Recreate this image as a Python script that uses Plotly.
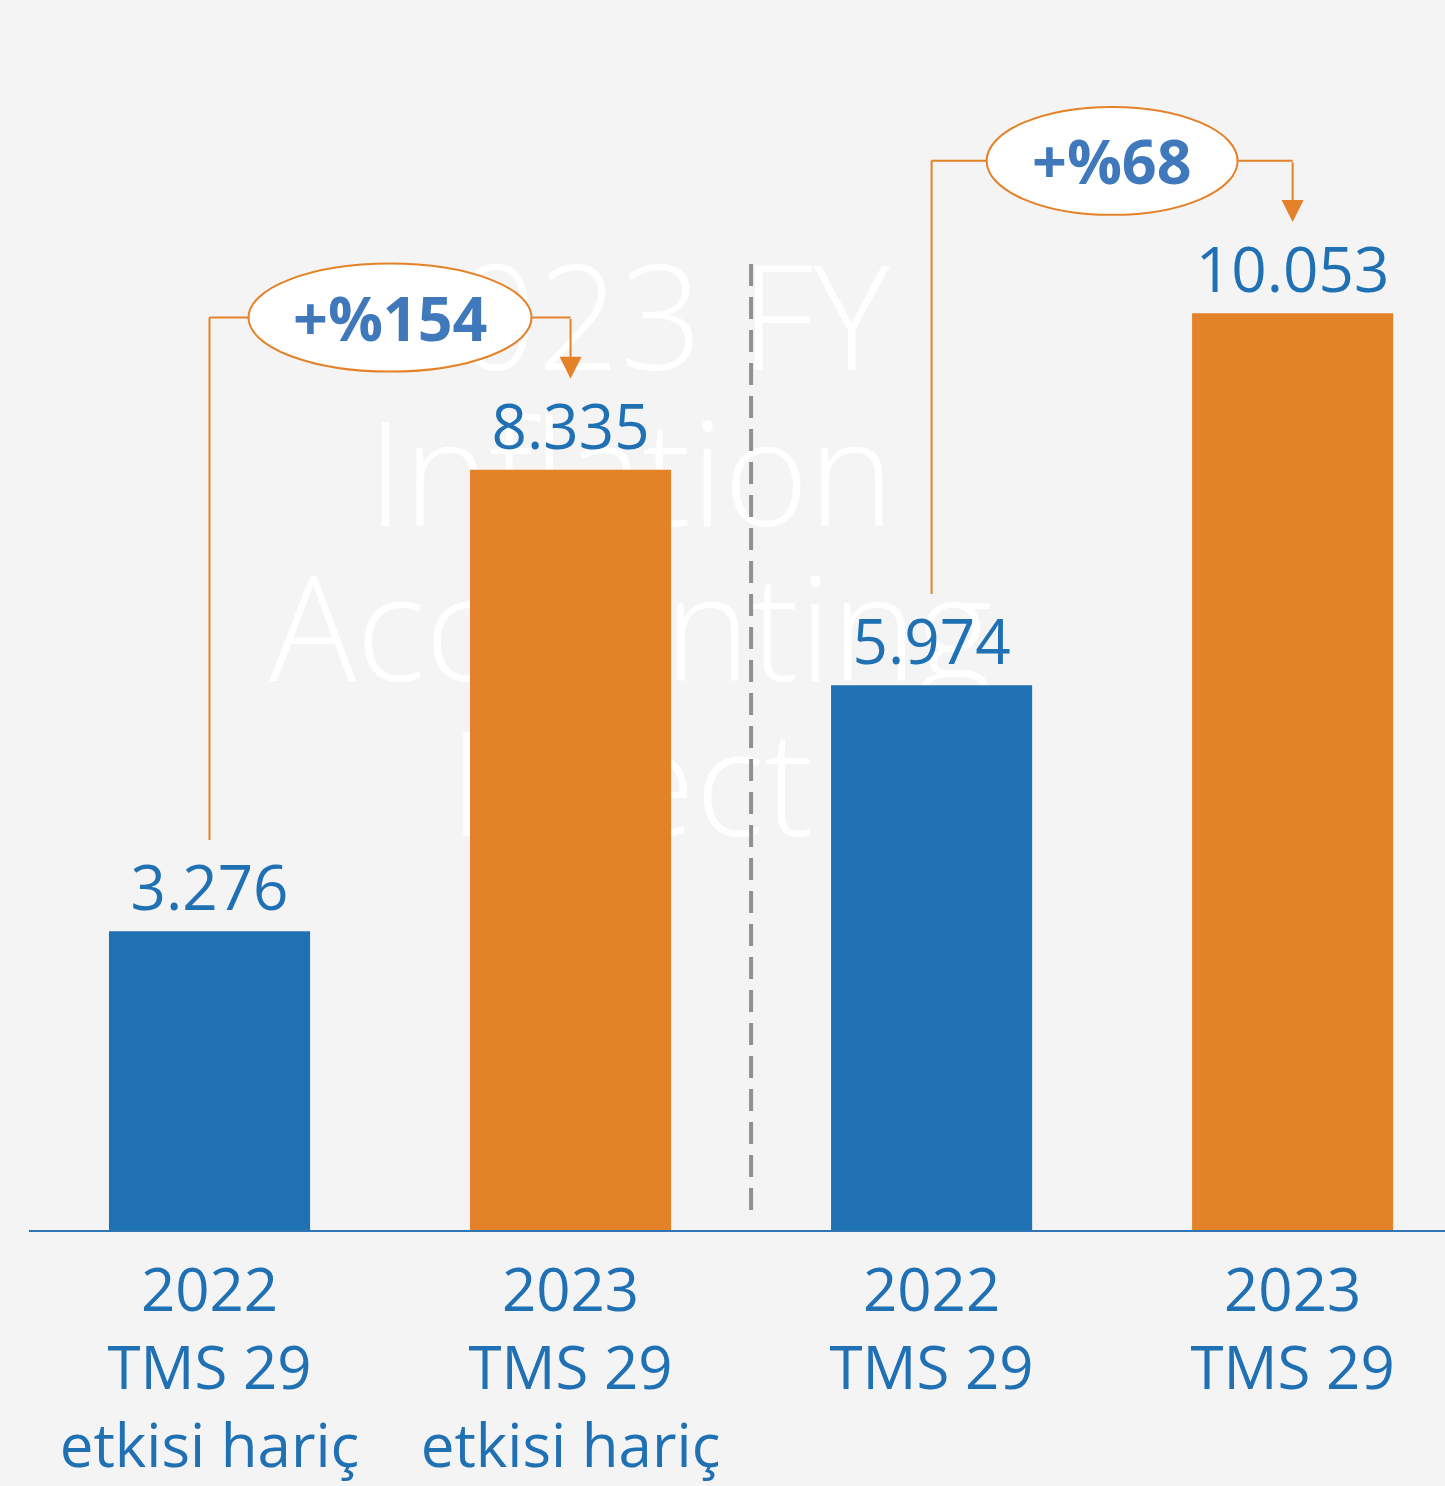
import plotly.graph_objects as go

categories = ["2022<br>TMS 29<br>etkisi hariç", "2023<br>TMS 29<br>etkisi hariç",
              "2022<br>TMS 29", "2023<br>TMS 29"]
values = [3276, 8335, 5974, 10053]
bar_colors = ["#2070b4", "#e38229", "#2070b4", "#e38229"]
growth_labels = ["+%154", "+%68"]
growth_pairs = [(0, 1), (2, 3)]
watermark_lines = ["2023 FY", "Inflation", "Accounting", "Effect"]
watermark_line_pos = [0.729, 0.602, 0.476, 0.350]

BG = "#f4f4f4"
ORANGE = "#e38229"
BLUE = "#2070b4"

fig = go.Figure()

# watermark on the main (lower) subplot so that bars are drawn on top of it
fig.add_trace(go.Scatter(
    x=[0.425] * len(watermark_lines), y=watermark_line_pos, mode="text",
    text=watermark_lines, textposition="middle center",
    textfont=dict(family="Open Sans", size=145, color="#ffffff", weight=300),
    hoverinfo="skip", showlegend=False, xaxis="x", yaxis="y"))

fig.add_trace(go.Bar(
    x=categories, y=values, marker=dict(color=bar_colors, line=dict(width=0)),
    width=0.557, texttemplate="%{y:,.0f}", textposition="outside",
    textfont=dict(family="Open Sans", size=62, color=BLUE),
    cliponaxis=False, showlegend=False, xaxis="x2", yaxis="y2"))

shapes = []
annotations = []
ell_widths = [0.784, 0.695]
for (i, j), lab, ew in zip(growth_pairs, growth_labels, ell_widths):
    top = max(values[i], values[j]) + 1670
    start = values[i] + 1000
    tip = values[j] + 1000
    shapes.append(dict(type="line", xref="x2", yref="y2", x0=i, x1=i, y0=start, y1=top,
                       line=dict(color=ORANGE, width=2)))
    shapes.append(dict(type="line", xref="x2", yref="y2", x0=i, x1=j, y0=top, y1=top,
                       line=dict(color=ORANGE, width=2)))
    cx = (i + j) / 2
    shapes.append(dict(type="circle", xref="x2", yref="y2", x0=cx - ew / 2, x1=cx + ew / 2,
                       y0=top - 592, y1=top + 592, fillcolor="#ffffff",
                       line=dict(color=ORANGE, width=2)))
    annotations.append(dict(x=j, y=tip, ax=j, ay=top, xref="x2", yref="y2",
                            axref="x2", ayref="y2", text="", showarrow=True,
                            arrowhead=2, arrowsize=2.2, arrowwidth=2, arrowcolor=ORANGE,
                            standoff=0))
    annotations.append(dict(x=cx, y=top, xref="x2", yref="y2", text=f"<b>{lab}</b>",
                            showarrow=False,
                            font=dict(family="Open Sans", size=61, color="#3f78bb")))

# dashed separator
shapes.append(dict(type="line", xref="x2", yref="y2", x0=1.5, x1=1.5, y0=220, y1=10690,
                   line=dict(color="#909090", width=4, dash="22px,11px")))

fig.update_layout(
    width=1445, height=1486,
    margin=dict(l=29, r=0, t=0, b=256, autoexpand=False),
    paper_bgcolor=BG, plot_bgcolor=BG,
    separators=",.",
    showlegend=False,
    xaxis=dict(range=[0, 1], visible=False, fixedrange=True, automargin=False),
    yaxis=dict(range=[0, 1], visible=False, fixedrange=True, automargin=False),
    xaxis2=dict(overlaying="x", range=[-0.5, 3.422], showgrid=False, zeroline=False,
                showline=True, linecolor="#2e75b6", linewidth=2, ticks="",
                tickfont=dict(family="Open Sans", size=60, color=BLUE),
                ticklabelstandoff=7, automargin=False),
    yaxis2=dict(overlaying="y", range=[0, 13487], visible=False, showgrid=False,
                zeroline=False, automargin=False),
    shapes=shapes, annotations=annotations,
    bargap=0.44,
)

fig.write_html("out.html", config={"displayModeBar": False},
               post_script="document.body.style.margin='0';document.body.style.background='#f4f4f4';")
